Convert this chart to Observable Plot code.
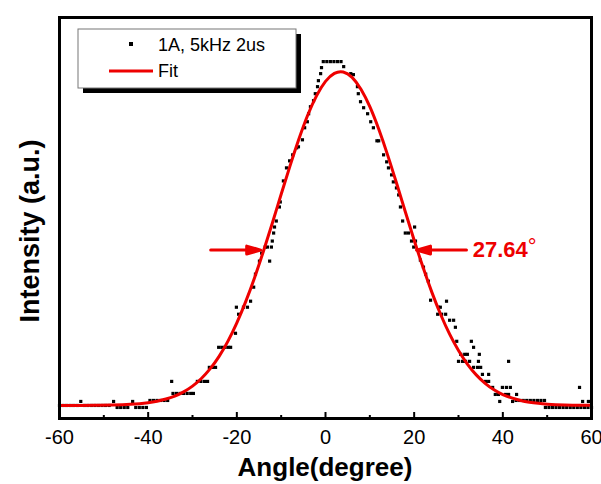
<!DOCTYPE html>
<html><head><meta charset="utf-8">
<script src="https://cdn.jsdelivr.net/npm/d3@7"></script>
<script src="https://cdn.jsdelivr.net/npm/@observablehq/plot@0.6"></script>
<style>body{margin:0;background:#fff;} #chart svg{display:block;}</style>
</head><body><div id="chart"></div>
<script>
// measured points (angle in degrees, intensity in arbitrary units)
const angles = [-60.0,-59.2,-58.4,-57.6,-56.8,-56.0,-55.2,-54.4,-53.6,-52.8,-52.0,-51.2,-50.4,-49.6,-48.8,-47.8,-47.0,-46.2,-45.4,-44.6,-43.5,-42.8,-42.0,-41.2,-40.4,-39.6,-38.8,-38.0,-37.2,-36.4,-35.6,-34.7,-34.4,-33.6,-32.8,-32.0,-31.2,-30.4,-29.8,-28.9,-28.1,-27.3,-26.6,-26.2,-25.5,-24.8,-24.1,-23.4,-22.7,-22.0,-21.4,
-20.3,-20.1,-19.6,-18.5,-17.6,-16.9,-16.2,-15.8,-14.9,-14.4,-13.6,-13.1,-12.6,-12.2,-12.0,-11.7,-11.5,-11.1,-10.4,-10.2,-9.5,-8.8,-8.1,-7.4,-6.5,-6.1,-5.2,-4.7,-4.1,-3.8,-3.4,-2.7,-2.3,-1.8,-1.6,-1.1,-0.9,
-0.5,0.3,1.1,1.9,2.7,3.5,4.1,5.7,6.3,7.2,7.4,7.9,8.6,9.5,10.2,10.8,11.6,12.0,13.1,13.8,14.2,14.9,15.3,16.0,16.5,16.9,17.4,18.0,18.7,20.1,19.4,20.3,19.9,21.4,22.1,22.6,23.2,23.7,27.3,25.5,25.9,25.3,26.2,27.1,28.0,28.9,29.3,29.6,32.9,33.4,30.5,31.4,32.0,34.7,30.0,30.9,31.6,32.5,34.5,41.3,33.4,34.3,35.0,35.4,36.8,36.1,36.8,37.7,38.3,39.0,39.9,40.8,41.7,40.6,41.3,43.1,39.3,42.2,43.0,43.8,44.6,45.4,46.2,47.0,47.8,48.6,49.4,49.6,50.4,51.2,52.0,52.8,53.6,54.4,55.2,56.0,56.8,57.6,57.3,58.0,59.3,58.4,59.2,60.0];
const intensities = [13,13,13,13,13,13,17,13,13,13,13,13,13,13,13,17,11,11,11,11,17,11,11,11,11,18,18,18,18,18,18,37,25,25,25,25,25,25,25,37,37,37,37,51,51,51,71,71,71,71,71,
85,111,104,111,111,117,131,144,157,165,171,171,157,171,177,185,191,197,211,216,237,250,257,263,270,271,278,290,296,304,311,317,324,331,337,344,350,
356,356,356,356,356,356,351,344,343,331,324,316,310,304,296,290,277,277,263,256,250,243,236,230,223,211,197,185,185,191,177,177,171,158,151,144,137,118,117,111,111,104,104,104,98,98,91,77,77,71,64,64,64,64,57,57,57,57,57,57,51,51,51,44,44,37,37,31,24,24,31,31,31,24,24,24,17,17,18,18,18,18,18,18,18,18,18,11,11,11,11,11,11,11,11,11,11,11,31,17,17,11,11,11];

// Gaussian fit curve
const fitAngles = [-60,-56,-52,-48,-44,-40,-38,-36,-34,-32,-30,-28,-26,-24,-22,-20,-18,-16,-14,-12,-10,-8,-6,-4,-2,0,2,4,6,8,10,12,14,16,18,20,22,24,26,28,30,32,34,36,38,40,42,44,46,48,50,54,58,60];
const fitValues = [13.0,13.0,13.1,13.4,14.1,15.7,17.2,19.4,22.4,26.6,32.3,39.9,49.7,62.0,77.2,95.4,116.6,140.5,166.9,194.8,223.7,252.0,278.7,302.7,322.1,336.3,344.3,345.7,340.3,328.4,311.0,288.7,263.0,235.1,206.2,177.8,150.8,125.8,103.5,84.1,67.8,54.3,43.5,35.1,28.7,23.9,20.5,18.0,16.3,15.1,14.3,13.5,13.2,13.1];

const majorTicks = [-60,-40,-20,0,20,40,60];
const minorTicks = [-50,-30,-10,10,30,50];
const seriesLabels = ["1A, 5kHz 2us", "Fit"];
const fwhmNumber = "27.64";
const degreeSign = "°";
const arrowLevel = [168];
const arrowTails = [-25.9, 31.8];
const arrowDirs = [90, -90];
const fwhmLabelAt = [33.2, 168];
const xLabel = "Angle(degree)";
const yLabel = "Intensity (a.u.)";

const RED = "#ee0000";
const points = angles.map((a, i) => ({a, v: intensities[i]}));
const fit = fitAngles.map((a, i) => ({a, v: fitValues[i]}));
const arrows = arrowTails.map((a, i) => ({a, v: arrowLevel[0], r: arrowDirs[i]}));

const arrowShape = {
  draw(ctx, l) {
    const hl = 14, hw = 4;
    ctx.moveTo(0, 0); ctx.lineTo(0, -(l - hl));
    ctx.moveTo(0, -l); ctx.lineTo(-hw, -(l - hl)); ctx.lineTo(hw, -(l - hl)); ctx.closePath();
  }
};

const chart = Plot.plot({
  width: 601, height: 484,
  marginLeft: 59, marginRight: 10, marginTop: 17, marginBottom: 66,
  x: {domain: [-60, 60], label: null},
  y: {domain: [0, 400], axis: null},
  style: {fontFamily: "'Liberation Sans', Arial, sans-serif", background: "white", overflow: "visible", color: "black"},
  marks: [
    Plot.axisX(majorTicks, {tickSize: 0, tickPadding: 11, fontSize: 20, label: null,
      tickFormat: d => (d < 0 ? "-" + Math.abs(d) : String(d))}),
    Plot.tickX(majorTicks, {x: d => d, insetTop: 395, stroke: "black", strokeWidth: 2}),
    Plot.tickX(minorTicks, {x: d => d, insetTop: 398, stroke: "black", strokeWidth: 2}),
    Plot.dot(points, {x: "a", y: "v", symbol: "square", r: 1.8, fill: "black", stroke: null}),
    Plot.line(fit, {x: "a", y: "v", stroke: RED, strokeWidth: 3, curve: "natural"}),
    Plot.vector(arrows, {x: "a", y: "v", rotate: "r", length: 50, anchor: "start", shape: arrowShape,
      stroke: RED, fill: RED, strokeWidth: 3, strokeLinejoin: "round"}),
    Plot.text([fwhmNumber], {x: () => fwhmLabelAt[0], y: () => fwhmLabelAt[1], text: d => d,
      textAnchor: "start", fill: RED, fontSize: 22, fontWeight: "bold"}),
    Plot.text([degreeSign], {x: () => fwhmLabelAt[0], y: () => fwhmLabelAt[1], text: d => d,
      textAnchor: "start", dx: 55, dy: -3, fill: RED, fontSize: 22, fontWeight: "normal"}),
    Plot.frame({stroke: "black", strokeWidth: 3})
  ]
});

const svg = d3.select(chart);
// axis titles
svg.append("text").attr("x", 325).attr("y", 476).attr("text-anchor", "middle")
  .attr("font-size", 26).attr("font-weight", "bold").attr("fill", "black").text(xLabel);
svg.append("text").attr("transform", "translate(39,231) rotate(-90)").attr("text-anchor", "middle")
  .attr("font-size", 27).attr("font-weight", "bold").attr("fill", "black").text(yLabel);
// legend
const lg = svg.append("g").attr("text-anchor", "start");
lg.append("rect").attr("x", 83).attr("y", 34).attr("width", 218).attr("height", 59).attr("fill", "black");
lg.append("rect").attr("x", 78).attr("y", 29).attr("width", 218).attr("height", 59)
  .attr("fill", "white").attr("stroke", "#777").attr("stroke-width", 1);
lg.append("rect").attr("x", 129).attr("y", 42).attr("width", 4).attr("height", 4).attr("fill", "black");
lg.append("line").attr("x1", 109).attr("x2", 153).attr("y1", 71).attr("y2", 71)
  .attr("stroke", RED).attr("stroke-width", 3);
seriesLabels.forEach((t, i) => {
  lg.append("text").attr("x", 158).attr("y", i === 0 ? 45 : 71).attr("dy", "0.35em")
    .attr("text-anchor", "start").attr("font-size", 18).attr("fill", "black").text(t);
});
document.getElementById("chart").appendChild(chart);
</script>
</body></html>
